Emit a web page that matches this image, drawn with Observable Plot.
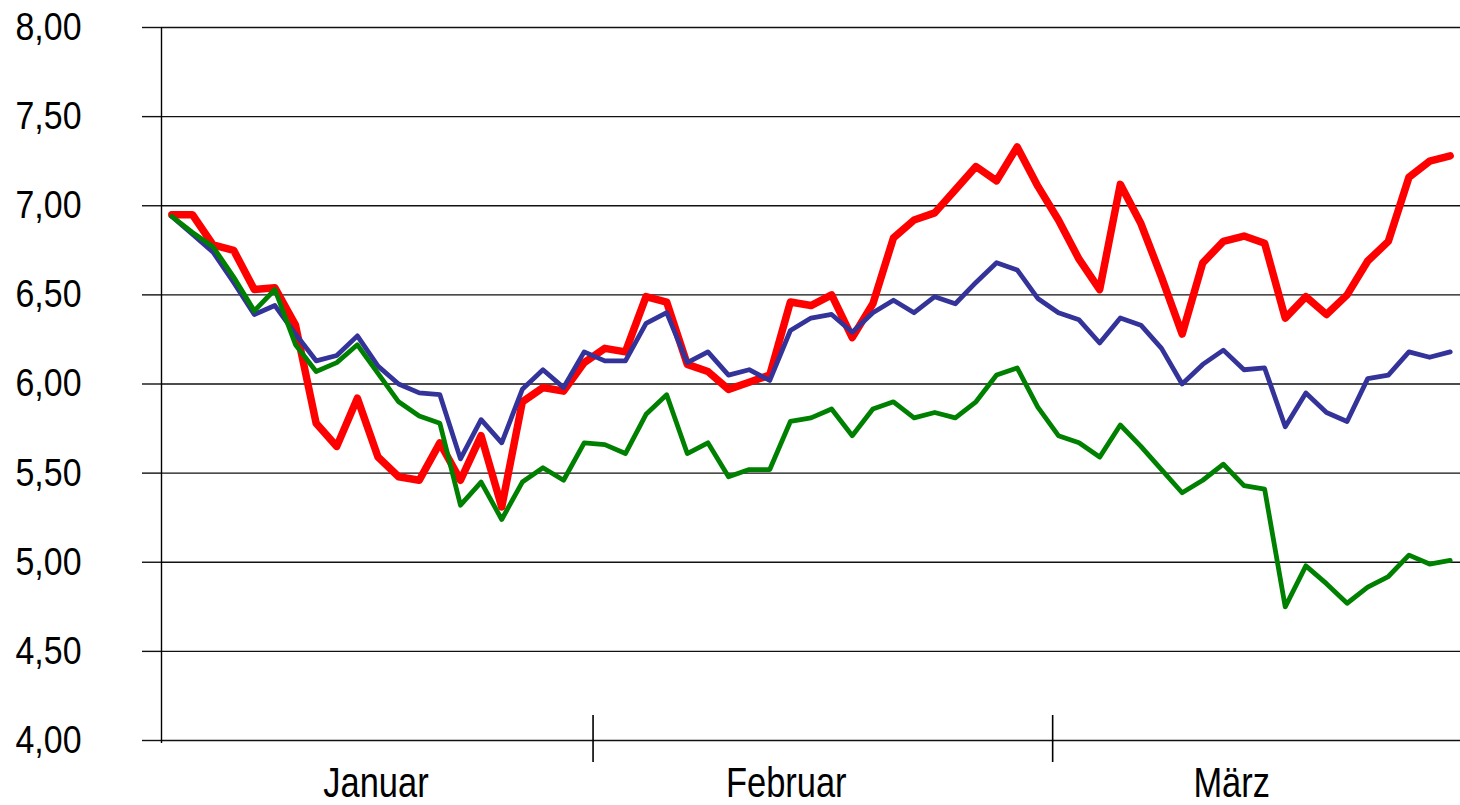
<!DOCTYPE html>
<html>
<head>
<meta charset="utf-8">
<script src="https://cdn.jsdelivr.net/npm/d3@7"></script>
<script src="https://cdn.jsdelivr.net/npm/@observablehq/plot@0.6"></script>
<style>
  html, body { margin: 0; padding: 0; background: #fff; }
  #chart svg { display: block; }
</style>
</head>
<body>
<div id="chart"></div>
<script>
// Series values (one per trading day, 63 days Jan–Mar)
const redValues = [
  6.95, 6.95, 6.78, 6.75, 6.53, 6.54, 6.33, 5.78, 5.65, 5.92,
  5.59, 5.48, 5.46, 5.67, 5.46, 5.71, 5.31, 5.90, 5.98, 5.96,
  6.12, 6.20, 6.18, 6.49, 6.46, 6.11, 6.07, 5.97, 6.01, 6.05,
  6.46, 6.44, 6.50, 6.26, 6.45, 6.82, 6.92, 6.96, 7.09, 7.22,
  7.14, 7.33, 7.11, 6.92, 6.70, 6.53, 7.12, 6.90, 6.60, 6.28,
  6.68, 6.80, 6.83, 6.79, 6.37, 6.49, 6.39, 6.50, 6.69, 6.80,
  7.16, 7.25, 7.28
];
const blueValues = [
  6.94, 6.84, 6.74, 6.57, 6.39, 6.44, 6.28, 6.13, 6.16, 6.27,
  6.10, 6.00, 5.95, 5.94, 5.58, 5.80, 5.67, 5.97, 6.08, 5.98,
  6.18, 6.13, 6.13, 6.34, 6.40, 6.12, 6.18, 6.05, 6.08, 6.02,
  6.30, 6.37, 6.39, 6.29, 6.40, 6.47, 6.40, 6.49, 6.45, 6.57,
  6.68, 6.64, 6.48, 6.40, 6.36, 6.23, 6.37, 6.33, 6.20, 6.00,
  6.11, 6.19, 6.08, 6.09, 5.76, 5.95, 5.84, 5.79, 6.03, 6.05,
  6.18, 6.15, 6.18
];
const greenValues = [
  6.94, 6.85, 6.77, 6.60, 6.41, 6.53, 6.22, 6.07, 6.12, 6.22,
  6.06, 5.90, 5.82, 5.78, 5.32, 5.45, 5.24, 5.45, 5.53, 5.46,
  5.67, 5.66, 5.61, 5.83, 5.94, 5.61, 5.67, 5.48, 5.52, 5.52,
  5.79, 5.81, 5.86, 5.71, 5.86, 5.90, 5.81, 5.84, 5.81, 5.90,
  6.05, 6.09, 5.87, 5.71, 5.67, 5.59, 5.77, 5.65, 5.52, 5.39,
  5.46, 5.55, 5.43, 5.41, 4.75, 4.98, 4.88, 4.77, 4.86, 4.92,
  5.04, 4.99, 5.01
];

// Category axis: month labels (positions in day-index units) and separators
const monthNames = ["Januar", "Februar", "März"];
const monthLabelPos = [9.9, 29.8, 51.4];
const monthSeparators = [20.43, 42.72];

// Value axis ticks
const yTicks = [4, 4.5, 5, 5.5, 6, 6.5, 7, 7.5, 8];
const yTickLabels = ["4,00", "4,50", "5,00", "5,50", "6,00", "6,50", "7,00", "7,50", "8,00"];

const toRows = (vals) => vals.map((v, i) => ({i, v}));
const red = toRows(redValues);
const blue = toRows(blueValues);
const green = toRows(greenValues);
const n = redValues.length;

const chart = Plot.plot({
  width: 1460,
  height: 805,
  marginTop: 27,
  marginBottom: 65,
  marginLeft: 161,
  marginRight: 0,
  style: {
    fontFamily: "'Liberation Sans Narrow', 'Arial Narrow', 'Liberation Sans', Arial, sans-serif",
    background: "#fff",
    color: "#000"
  },
  x: {type: "linear", domain: [-0.5, n - 0.5]},
  y: {domain: [4, 8]},
  marks: [
    Plot.ruleY(yTicks, {stroke: "#111", strokeWidth: 1.4}),
    Plot.ruleX([-0.5], {stroke: "#000", strokeWidth: 1.4, insetBottom: -3}),
    Plot.ruleX(monthSeparators, {stroke: "#000", strokeWidth: 1.6, insetTop: 688, insetBottom: -22}),
    Plot.axisY({
      ticks: yTicks,
      tickFormat: d => yTickLabels[yTicks.indexOf(d)],
      tickSize: 19,
      tickPadding: 61,
      fontSize: 39,
      stroke: "#111",
      strokeWidth: 1.4,
      label: null,
      className: "yax"
    }),
    Plot.axisX({
      ticks: monthLabelPos,
      tickFormat: d => monthNames[monthLabelPos.indexOf(d)],
      tickSize: 0,
      tickPadding: 27,
      fontSize: 42,
      label: null
    }),
    Plot.line(red, {x: "i", y: "v", stroke: "#ff0000", strokeWidth: 7.5}),
    Plot.line(blue, {x: "i", y: "v", stroke: "#333399", strokeWidth: 4.8}),
    Plot.line(green, {x: "i", y: "v", stroke: "#008000", strokeWidth: 4.8})
  ]
});
document.getElementById("chart").appendChild(chart);

// Emulate the narrow face of the original when no narrow font is installed
const narrowAvailable = (() => {
  const c = document.createElement("canvas").getContext("2d");
  c.font = "40px 'Liberation Sans Narrow', monospace";
  const a = c.measureText("Januar").width;
  c.font = "40px monospace";
  return a !== c.measureText("Januar").width;
})();
if (!narrowAvailable) {
  chart.querySelectorAll("g[aria-label='y-axis tick label'] text").forEach(t => {
    const len = t.getComputedTextLength();
    if (len > 0) {
      t.setAttribute("textLength", (len * 0.87).toFixed(1));
      t.setAttribute("lengthAdjust", "spacingAndGlyphs");
    }
  });
  chart.querySelectorAll("g[aria-label='x-axis tick label'] text").forEach(t => {
    const len = t.getComputedTextLength();
    if (len > 0) {
      t.setAttribute("textLength", (len * 0.82).toFixed(1));
      t.setAttribute("lengthAdjust", "spacingAndGlyphs");
    }
  });
}
</script>
</body>
</html>
